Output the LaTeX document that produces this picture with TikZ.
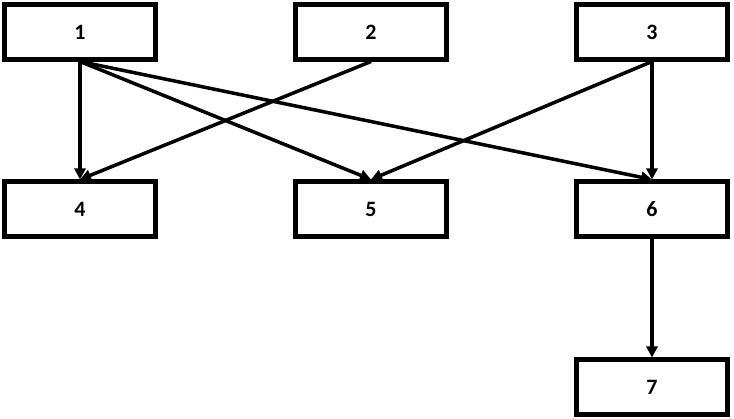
\documentclass[tikz,border=0pt]{standalone}
\usepackage{fontspec}
\setmainfont{Carlito}
\usetikzlibrary{arrows.meta}

\begin{document}
\begin{tikzpicture}[x=0.02cm, y=-0.02cm,
    box/.style={draw, line width=2.3pt, minimum width=3.02cm, minimum height=1.1cm,
      inner sep=0pt, font=\fontsize{12.5}{14}\selectfont\bfseries},
    link/.style={line width=2pt, -{Triangle[length=0.22cm, width=0.22cm]}}]
    \useasboundingbox (0,0) rectangle (734,419);

    % Top row
    \node[box] (n1) at (80, 32) {1};
    \node[box] (n2) at (371, 32) {2};
    \node[box] (n3) at (652, 32) {3};

    % Middle row
    \node[box] (n4) at (80, 209) {4};
    \node[box] (n5) at (371, 209) {5};
    \node[box] (n6) at (652, 209) {6};

    % Bottom
    \node[box] (n7) at (652, 387) {7};

    % Links
    \draw[link] (n1.south) -- (n4.north);
    \draw[link] (n1.south) -- (n5.north);
    \draw[link] (n1.south) -- (n6.north);
    \draw[link] (n2.south) -- (n4.north);
    \draw[link] (n3.south) -- (n5.north);
    \draw[link] (n3.south) -- (n6.north);
    \draw[link] (n6.south) -- (n7.north);
\end{tikzpicture}
\end{document}
